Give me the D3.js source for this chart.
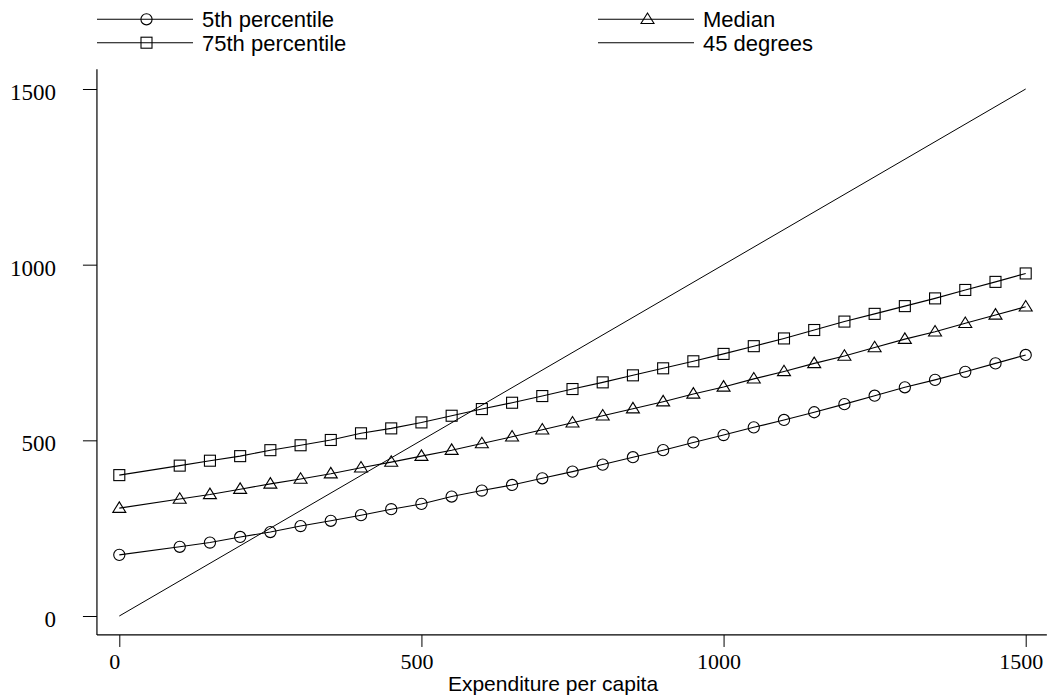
<!DOCTYPE html>
<html><head><meta charset="utf-8">
<script src="https://cdn.jsdelivr.net/npm/d3@7"></script>
<style>body{margin:0;background:#fff}svg{display:block}</style>
</head><body><svg id="c" width="1048" height="700"></svg>
<script>
const xValues = [0,100,150,200,250,300,350,400,450,500,550,600,650,700,750,800,850,900,950,1000,1050,1100,1150,1200,1250,1300,1350,1400,1450,1500];
const p5 = [174,197,209,225,239,256,271,287,304,319,340,357,373,392,411,431,452,472,494,515,537,558,580,603,627,651,672,695,719,743];
const median = [307,333,346,361,376,390,405,422,438,455,472,491,510,530,550,570,590,610,632,652,675,696,719,740,764,788,809,833,857,880];
const p75 = [401,428,442,455,472,486,501,520,534,551,570,589,607,626,646,665,685,705,725,746,768,790,814,838,860,882,904,928,951,975];
const diagX = [0,1500];
const diagY = [0,1500];
const xTicks = [0,500,1000,1500];
const yTicks = [0,500,1000,1500];
const xTitle = "Expenditure per capita";
const seriesNames = ["5th percentile","Median","75th percentile","45 degrees"];

const svg = d3.select("#c");
svg.append("rect").attr("width",1048).attr("height",700).attr("fill","#fff");

const x = d3.scaleLinear().domain([0,1500]).range([119.3,1025.7]);
const y = d3.scaleLinear().domain([0,1500]).range([616,89]);
const xExt = [-37,1535], yExt = [-54,1556];
const fmt = d3.format("d");

// axes
const gy = svg.append("g").attr("transform",`translate(${x(xExt[0])},0)`)
  .call(d3.axisLeft(y).tickValues(yTicks).tickFormat(fmt).tickSize(14).tickPadding(27).tickSizeOuter(0));
gy.select(".domain").remove();
gy.append("line").attr("x1",0).attr("x2",0).attr("y1",y(yExt[0])).attr("y2",y(yExt[1])).attr("stroke","#000").attr("stroke-width",1.2);
gy.selectAll(".tick text").attr("font-family","'Liberation Serif','Times New Roman',serif").attr("font-size",23).attr("fill","#000").attr("dy","0.45em");
gy.selectAll(".tick line").attr("stroke","#000");

const gx = svg.append("g").attr("transform",`translate(0,${y(yExt[0])})`)
  .call(d3.axisBottom(x).tickValues(xTicks).tickFormat(fmt).tickSize(12).tickPadding(6).tickSizeOuter(0));
gx.select(".domain").remove();
gx.append("line").attr("y1",0).attr("y2",0).attr("x1",x(xExt[0])).attr("x2",x(xExt[1])).attr("stroke","#000").attr("stroke-width",1.2);
gx.selectAll(".tick text").attr("font-family","'Liberation Serif','Times New Roman',serif").attr("font-size",22).attr("fill","#000").attr("dx","-5");
gx.selectAll(".tick line").attr("stroke","#000");

svg.append("text").attr("x",553).attr("y",691).attr("text-anchor","middle")
  .attr("font-family","'Liberation Sans',Arial,sans-serif").attr("font-size",21).text(xTitle);

// symbols
function drawMarker(g, type, cx, cy){
  if(type==="circle") g.append("circle").attr("cx",cx).attr("cy",cy).attr("r",5.6);
  else if(type==="square") g.append("rect").attr("x",cx-5.5).attr("y",cy-5.5).attr("width",11).attr("height",11);
  else if(type==="triangle") g.append("path").attr("d",`M${cx},${cy-6.3}L${cx+6.5},${cy+4.2}L${cx-6.5},${cy+4.2}Z`);
}

const line = d3.line().x(d=>x(d[0])).y(d=>y(d[1]));
const series = [
  {vals:p5, type:"circle"},
  {vals:median, type:"triangle"},
  {vals:p75, type:"square"}
];

// 45 degree line
svg.append("path").attr("d",line(diagX.map((v,i)=>[v,diagY[i]]))).attr("fill","none").attr("stroke","#000").attr("stroke-width",1);

series.forEach(s=>{
  const pts = xValues.map((v,i)=>[v,s.vals[i]]);
  svg.append("path").attr("d",line(pts)).attr("fill","none").attr("stroke","#000").attr("stroke-width",1.1);
  const g = svg.append("g").attr("fill","none").attr("stroke","#000").attr("stroke-width",1.1);
  pts.forEach(p=>drawMarker(g,s.type,x(p[0]),y(p[1])));
});

// legend
const legItems = [
  {name:seriesNames[0], type:"circle", lx:97, ly:19.3},
  {name:seriesNames[1], type:"triangle", lx:598, ly:19.3},
  {name:seriesNames[2], type:"square", lx:97, ly:42.7},
  {name:seriesNames[3], type:null, lx:598, ly:42.7}
];
legItems.forEach(it=>{
  const g = svg.append("g").attr("fill","none").attr("stroke","#000").attr("stroke-width",1.1);
  g.append("line").attr("x1",it.lx).attr("x2",it.lx+96).attr("y1",it.ly).attr("y2",it.ly);
  if(it.type) drawMarker(g,it.type,it.lx+49.5,it.ly);
  svg.append("text").attr("x",it.lx+105).attr("y",it.ly).attr("dy","0.36em")
    .attr("font-family","'Liberation Sans',Arial,sans-serif").attr("font-size",22).text(it.name);
});
</script></body></html>
